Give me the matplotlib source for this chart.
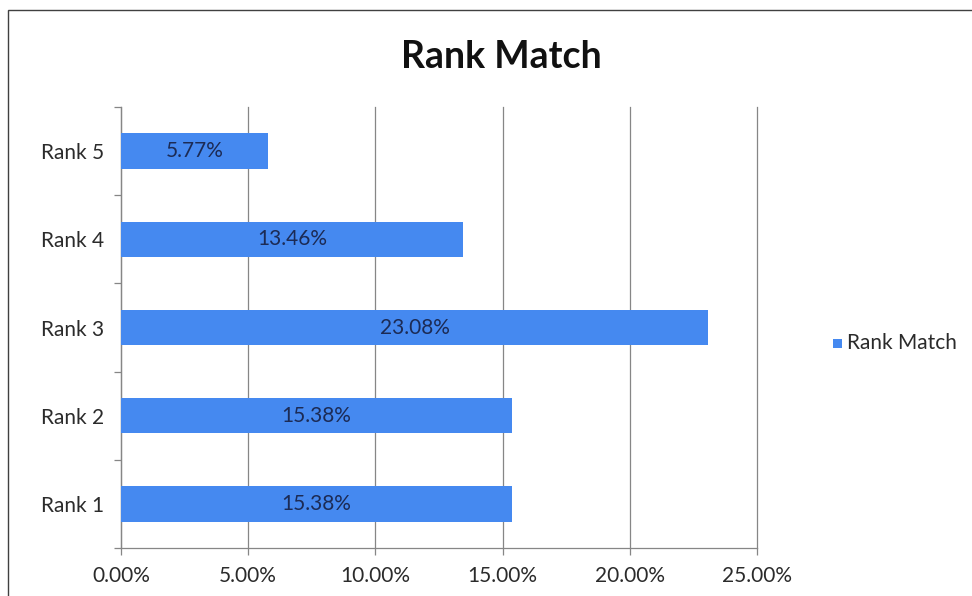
import matplotlib
matplotlib.use("Agg")
import matplotlib.pyplot as plt
from matplotlib.patches import Rectangle
from matplotlib.ticker import FuncFormatter, MultipleLocator

categories = ["Rank 1", "Rank 2", "Rank 3", "Rank 4", "Rank 5"]
values = [15.38, 15.38, 23.08, 13.46, 5.77]
series_name = "Rank Match"
title = "Rank Match"

plt.rcParams['font.family'] = ['Lato', 'DejaVu Sans']

W, H = 972, 596
fig = plt.figure(figsize=(W / 100, H / 100), dpi=100)
fig.patch.set_facecolor("white")

# chart area frame
fig.patches.append(Rectangle((8 / W, -0.01), 1.0, (H - 10) / H + 0.01,
                             transform=fig.transFigure, fill=False,
                             edgecolor="#404040", linewidth=1.0))

left, right = 121 / W, 757 / W
bottom, top = (H - 548) / H, (H - 107) / H
ax = fig.add_axes([left, bottom, right - left, top - bottom])

bar_color = "#4589F0"
axis_color = "#868686"
text_color = "#2B2B2B"

y = list(range(len(categories)))
ax.barh(y, values, height=0.4, color=bar_color, zorder=3)

ax.set_xlim(0, 25)
ax.set_ylim(-0.5, len(categories) - 0.5)
ax.xaxis.set_major_locator(MultipleLocator(5))
ax.xaxis.set_major_formatter(FuncFormatter(lambda v, p: f"{v:.2f}%"))
ax.grid(axis="x", color=axis_color, linewidth=0.9, zorder=0)
for gl in ax.get_xgridlines():
    gl.set_clip_on(False)

ax.set_yticks(y)
ax.set_yticklabels(categories)
ax.set_yticks([i - 0.5 for i in range(len(categories) + 1)], minor=True)
ax.tick_params(axis="y", which="major", length=0, pad=12, labelsize=15, labelcolor=text_color)
ax.tick_params(axis="y", which="minor", length=5, color=axis_color, width=0.9)
ax.tick_params(axis="x", length=5, color=axis_color, width=0.9, pad=8,
               labelsize=15, labelcolor=text_color)

for s in ["top", "right"]:
    ax.spines[s].set_visible(False)
for s in ["left", "bottom"]:
    ax.spines[s].set_color(axis_color)
    ax.spines[s].set_linewidth(0.9)

for yi, v in zip(y, values):
    ax.text(v / 2, yi, f"{v:.2f}%", ha="center", va="center",
            fontsize=15, color="#1C2B55", zorder=4)

fig.text(501 / W, 1 - 57 / H, title, ha="center", va="center",
         fontsize=27, fontweight="bold", color="#111111")

fig.patches.append(Rectangle((833 / W, 1 - 348 / H), 9 / W, 9 / H,
                             transform=fig.transFigure, facecolor=bar_color,
                             edgecolor="none"))
fig.text(847 / W, 1 - 343 / H, series_name, ha="left", va="center",
         fontsize=15, color=text_color)

fig.savefig("out.png", dpi=100)
